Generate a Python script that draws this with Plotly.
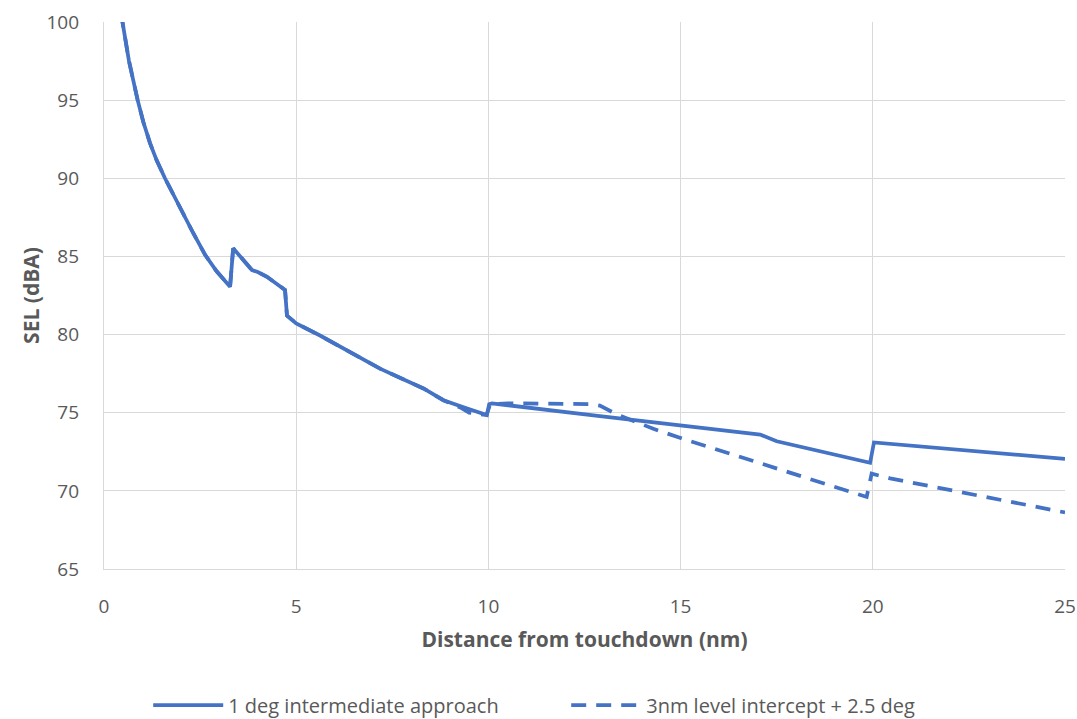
import plotly.graph_objects as go

# Data
solid_x = [0.44, 0.476, 0.65, 0.876, 1.023, 1.197, 1.37, 1.586, 2.02, 2.32, 2.63, 2.93, 3.28, 3.36, 3.85, 4.00,
           4.24, 4.71, 4.76, 5.00, 5.62, 6.31, 7.18, 8.31, 8.83, 9.43, 9.96, 10.02, 10.09, 12.90, 15.00,
           17.07, 17.50, 19.84, 19.93, 20.03, 25.00]
solid_y = [100.6, 100.0, 97.5, 95.0, 93.6, 92.25, 91.15, 90.0, 87.9, 86.5, 85.1, 84.05, 83.06, 85.52, 84.13, 84.0,
           83.7, 82.85, 81.21, 80.72, 79.94, 78.98, 77.82, 76.55, 75.8, 75.28, 74.85, 75.55, 75.6, 74.78, 74.18,
           73.6, 73.17, 71.81, 71.8, 73.1, 72.05]

dash_x = [0.44, 0.476, 0.65, 0.876, 1.023, 1.197, 1.37, 1.586, 2.02, 2.32, 2.63, 2.93, 3.28, 3.36, 3.85, 4.00,
          4.24, 4.71, 4.76, 5.00, 5.62, 6.31, 7.18, 8.31, 8.83, 9.30, 9.50, 9.95, 10.05, 10.50, 12.00, 12.60,
          12.90, 13.34, 14.29, 15.00, 17.76, 19.84, 19.97, 20.45, 25.00]
dash_y = [100.6, 100.0, 97.5, 95.0, 93.6, 92.25, 91.15, 90.0, 87.9, 86.5, 85.1, 84.05, 83.06, 85.52, 84.13, 84.0,
          83.7, 82.85, 81.21, 80.72, 79.94, 78.98, 77.82, 76.55, 75.8, 75.3, 75.0, 74.85, 75.55, 75.6, 75.6, 75.55,
          75.45, 74.9, 73.97, 73.38, 71.23, 69.61, 71.1, 70.8, 68.62]

series_names = ["1 deg intermediate approach", "3nm level intercept + 2.5 deg"]
x_ticks = [0, 5, 10, 15, 20, 25]
y_ticks = [65, 70, 75, 80, 85, 90, 95, 100]

color = "#4472C4"
font_family = "'Open Sans', sans-serif"
grey = "#595959"

fig = go.Figure()
fig.add_trace(go.Scatter(x=solid_x, y=solid_y, mode="lines", name=series_names[0],
                         line=dict(color=color, width=3.75)))
fig.add_trace(go.Scatter(x=dash_x, y=dash_y, mode="lines", name=series_names[1],
                         line=dict(color=color, width=3.75, dash="15px,10px")))

fig.update_layout(
    width=1077, height=719,
    margin=dict(l=104, r=12, t=22, b=150, autoexpand=False),
    paper_bgcolor="white", plot_bgcolor="white",
    font=dict(family=font_family, color=grey, size=19),
    showlegend=True,
    legend=dict(orientation="h", x=0.046, xanchor="left", y=-0.249, yanchor="middle",
                font=dict(size=20, color=grey), itemwidth=70,
                entrywidth=333, entrywidthmode="pixels"),
    xaxis=dict(range=[0, 25], tickvals=x_ticks, showgrid=True, gridcolor="#D9D9D9", gridwidth=1.3,
               zeroline=False, showline=True, linecolor="#D9D9D9", linewidth=1.3, automargin=False,
               ticks="", tickfont=dict(size=19, color=grey), ticklabelstandoff=20,
               title=dict(text="<b>Distance from touchdown (nm)</b>", font=dict(size=21, color=grey), standoff=14)),
    yaxis=dict(range=[65, 100], tickvals=y_ticks, showgrid=True, gridcolor="#D9D9D9", gridwidth=1.3,
               zeroline=False, showline=True, linecolor="#D9D9D9", linewidth=1.3, automargin=False,
               ticks="", tickfont=dict(size=19, color=grey), ticklabelstandoff=20,
               title=dict(text="<b>SEL (dBA)</b>", font=dict(size=21, color=grey), standoff=1)),
)

fig.write_html("out.html", config={"displayModeBar": False},
               post_script="document.body.style.margin='0';")
